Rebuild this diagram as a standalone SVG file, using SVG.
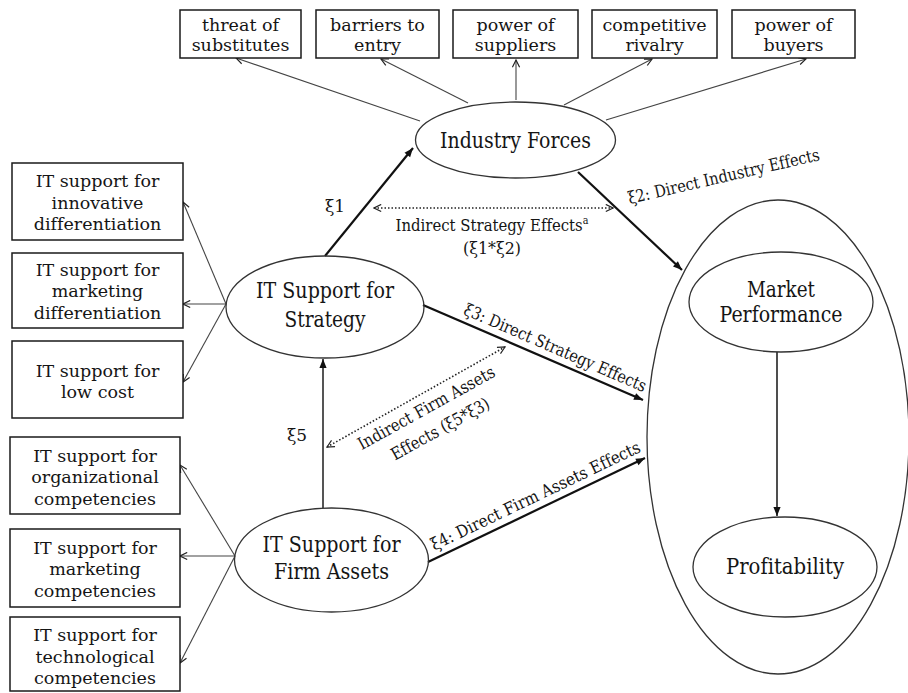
<svg xmlns="http://www.w3.org/2000/svg" width="908" height="693" viewBox="0 0 908 693" font-family="'DejaVu Serif', serif">
<style>
text{font-family:'DejaVu Serif',serif;fill:#151515;font-variant-ligatures:none}
.bt{font-size:17.5px;text-anchor:middle}
.et{font-size:22px;text-anchor:middle}
.lt{font-size:17px;text-anchor:middle}
.box{fill:#fff;stroke:#1a1a1a;stroke-width:1.5}
.ell{fill:none;stroke:#333;stroke-width:1.3}
.thin{fill:none;stroke:#444;stroke-width:1.1;marker-end:url(#open)}
.thick{fill:none;stroke:#111;stroke-width:2.2;marker-end:url(#solid)}
.dot{fill:none;stroke:#222;stroke-width:1.6;stroke-dasharray:1.5 2;marker-start:url(#open);marker-end:url(#open)}
</style>
<defs>
<marker id="open" viewBox="0 0 10 10" refX="9" refY="5" markerWidth="9" markerHeight="9" markerUnits="userSpaceOnUse" orient="auto-start-reverse"><path d="M1,1 L9,5 L1,9" fill="none" stroke="#222" stroke-width="1.3"/></marker>
<marker id="solid" viewBox="0 0 10 10" refX="10" refY="5" markerWidth="10" markerHeight="9" markerUnits="userSpaceOnUse" orient="auto"><path d="M0,1 L10,5 L0,9 z" fill="#111"/></marker>
</defs>
<rect width="908" height="693" fill="#fff"/>

<g id="connectors">
<line class="thin" x1="420" y1="121" x2="236" y2="58"/>
<line class="thin" x1="468" y1="103" x2="381" y2="59"/>
<line class="thin" x1="516" y1="100" x2="516" y2="60"/>
<line class="thin" x1="564" y1="105" x2="652" y2="59"/>
<line class="thin" x1="606" y1="120" x2="806" y2="59"/>
<line class="thin" x1="226" y1="304" x2="183" y2="202"/>
<line class="thin" x1="226" y1="304" x2="183" y2="304"/>
<line class="thin" x1="226" y1="304" x2="183" y2="382"/>
<line class="thin" x1="235" y1="556" x2="180" y2="465"/>
<line class="thin" x1="235" y1="556" x2="180" y2="556"/>
<line class="thin" x1="235" y1="556" x2="180" y2="663"/>
<line class="thick" x1="325" y1="256" x2="413" y2="148"/>
<line class="thick" x1="578" y1="172" x2="682" y2="270"/>
<line class="thick" x1="423" y1="305" x2="643" y2="400"/>
<line class="thick" x1="428" y1="562" x2="645" y2="458"/>
<line x1="323" y1="508" x2="323" y2="359" fill="none" stroke="#555" stroke-width="2" marker-end="url(#solid)"/>
<line x1="777" y1="352" x2="777" y2="516" fill="none" stroke="#222" stroke-width="1.6" marker-end="url(#solid)"/>
<line class="dot" x1="374" y1="208" x2="613" y2="208"/>
<line class="dot" x1="327" y1="447" x2="505" y2="347"/>
<text class="lt" x="335" y="212" text-anchor="start">ξ1</text>
<text class="lt" x="297" y="441" text-anchor="start">ξ5</text>
<text class="lt" x="492" y="231" textLength="193" lengthAdjust="spacingAndGlyphs">Indirect Strategy Effects<tspan font-size="11" dy="-7">a</tspan></text>
<text class="lt" x="492" y="254" textLength="58" lengthAdjust="spacingAndGlyphs">(ξ1*ξ2)</text>
<text class="lt" transform="translate(725,182) rotate(-13)" textLength="196" lengthAdjust="spacingAndGlyphs">ξ2: Direct Industry Effects</text>
<text class="lt" transform="translate(553,353) rotate(23.4)" textLength="197" lengthAdjust="spacingAndGlyphs">ξ3: Direct Strategy Effects</text>
<text class="lt" transform="translate(538,501) rotate(-25.6)" textLength="230" lengthAdjust="spacingAndGlyphs">ξ4: Direct Firm Assets Effects</text>
<text class="lt" transform="translate(429,413) rotate(-29)" textLength="154" lengthAdjust="spacingAndGlyphs">Indirect Firm Assets</text>
<text class="lt" transform="translate(443,434) rotate(-29)" textLength="110" lengthAdjust="spacingAndGlyphs">Effects (ξ5*ξ3)</text>
</g>

<g id="threat">
<rect class="box" x="180" y="10" width="121" height="48"/>
<text class="bt" x="240.5" y="31">threat of</text>
<text class="bt" x="240.5" y="51">substitutes</text>
</g>
<g id="barriers">
<rect class="box" x="316" y="10" width="123" height="48"/>
<text class="bt" x="377.5" y="31">barriers to</text>
<text class="bt" x="377.5" y="51">entry</text>
</g>
<g id="suppliers">
<rect class="box" x="453" y="10" width="125" height="48"/>
<text class="bt" x="515.5" y="31">power of</text>
<text class="bt" x="515.5" y="51">suppliers</text>
</g>
<g id="rivalry">
<rect class="box" x="592" y="10" width="125" height="48"/>
<text class="bt" x="654.5" y="31">competitive</text>
<text class="bt" x="654.5" y="51">rivalry</text>
</g>
<g id="buyers">
<rect class="box" x="732" y="10" width="123" height="48"/>
<text class="bt" x="793.5" y="31">power of</text>
<text class="bt" x="793.5" y="51">buyers</text>
</g>

<g id="industry">
<ellipse class="ell" cx="515.5" cy="140" rx="100" ry="38"/>
<text class="et" x="515.5" y="148" textLength="151" lengthAdjust="spacingAndGlyphs">Industry Forces</text>
</g>

<g id="innov">
<rect class="box" x="12" y="163" width="171" height="77"/>
<text class="bt" x="97.5" y="187">IT support for</text>
<text class="bt" x="97.5" y="208.5">innovative</text>
<text class="bt" x="97.5" y="230">differentiation</text>
</g>
<g id="mktdiff">
<rect class="box" x="12" y="253" width="171" height="75"/>
<text class="bt" x="97.5" y="275.5">IT support for</text>
<text class="bt" x="97.5" y="297">marketing</text>
<text class="bt" x="97.5" y="318.5">differentiation</text>
</g>
<g id="lowcost">
<rect class="box" x="12" y="341" width="171" height="77"/>
<text class="bt" x="97.5" y="376.5">IT support for</text>
<text class="bt" x="97.5" y="397.5">low cost</text>
</g>
<g id="orgcomp">
<rect class="box" x="10" y="437" width="170" height="77"/>
<text class="bt" x="95" y="461.5">IT support for</text>
<text class="bt" x="95" y="483">organizational</text>
<text class="bt" x="95" y="504.5">competencies</text>
</g>
<g id="mktcomp">
<rect class="box" x="10" y="529" width="170" height="78"/>
<text class="bt" x="95" y="553.5">IT support for</text>
<text class="bt" x="95" y="575">marketing</text>
<text class="bt" x="95" y="596.5">competencies</text>
</g>
<g id="techcomp">
<rect class="box" x="10" y="617" width="170" height="74"/>
<text class="bt" x="95" y="641">IT support for</text>
<text class="bt" x="95" y="662.5">technological</text>
<text class="bt" x="95" y="684">competencies</text>
</g>

<g id="strategy">
<ellipse class="ell" cx="325" cy="307" rx="99" ry="51"/>
<text class="et" x="325" y="298" textLength="138" lengthAdjust="spacingAndGlyphs">IT Support for</text>
<text class="et" x="325" y="327" textLength="81" lengthAdjust="spacingAndGlyphs">Strategy</text>
</g>
<g id="firmassets">
<ellipse class="ell" cx="331.5" cy="560" rx="97" ry="52"/>
<text class="et" x="331.5" y="552" textLength="138" lengthAdjust="spacingAndGlyphs">IT Support for</text>
<text class="et" x="331.5" y="579" textLength="115" lengthAdjust="spacingAndGlyphs">Firm Assets</text>
</g>

<g id="performance">
<ellipse class="ell" cx="778" cy="437" rx="131" ry="237"/>
</g>
<g id="market">
<ellipse class="ell" cx="781" cy="302" rx="92" ry="50"/>
<text class="et" x="781" y="297" textLength="68" lengthAdjust="spacingAndGlyphs">Market</text>
<text class="et" x="781" y="322" textLength="123" lengthAdjust="spacingAndGlyphs">Performance</text>
</g>
<g id="profit">
<ellipse class="ell" cx="785" cy="567" rx="92" ry="50"/>
<text class="et" x="785" y="574" textLength="118" lengthAdjust="spacingAndGlyphs">Profitability</text>
</g>
</svg>
